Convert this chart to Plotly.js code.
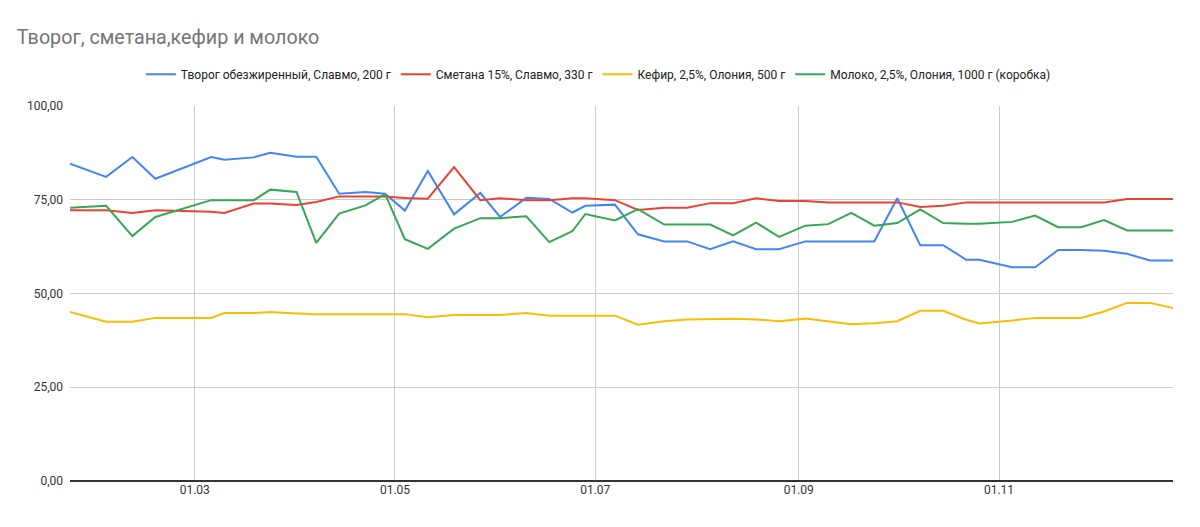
<!DOCTYPE html>
<html>
<head>
<meta charset="utf-8">
<script src="https://cdn.plot.ly/plotly-3.0.1.min.js"></script>
<style>html,body{margin:0;padding:0;background:#fff;}#chart{width:1200px;height:527px;}</style>
</head>
<body>
<div id="chart"></div>
<script>
const chartTitle = "Творог, сметана,кефир и молоко";
const seriesNames = [
  "Творог обезжиренный, Славмо, 200 г",
  "Сметана 15%, Славмо, 330 г",
  "Кефир, 2,5%, Олония, 500 г",
  "Молоко, 2,5%, Олония, 1000 г (коробка)"
];
const dates = [
  "2023-01-22","2023-02-02","2023-02-10","2023-02-17","2023-03-06","2023-03-10",
  "2023-03-19","2023-03-24","2023-04-01","2023-04-07","2023-04-14","2023-04-22",
  "2023-04-28","2023-05-04","2023-05-11","2023-05-19","2023-05-27","2023-06-02",
  "2023-06-10","2023-06-17","2023-06-24","2023-06-28","2023-07-07","2023-07-14",
  "2023-07-22","2023-07-29","2023-08-05","2023-08-12","2023-08-19","2023-08-26",
  "2023-09-03","2023-09-10","2023-09-17","2023-09-24","2023-10-01","2023-10-08",
  "2023-10-15","2023-10-22","2023-10-26","2023-11-05","2023-11-12","2023-11-19",
  "2023-11-26","2023-12-03","2023-12-10","2023-12-17","2023-12-24"
];
const tvorog = [
  84.6,81.1,86.4,80.6,86.4,85.7,86.3,87.5,86.5,86.5,76.6,77.1,
  76.6,72.1,82.7,71.1,76.8,70.4,75.5,75.2,71.6,73.4,73.7,65.8,
  63.9,63.9,61.8,63.9,61.8,61.8,63.9,63.9,63.9,63.9,75.4,62.9,
  62.9,59.0,59.0,57.0,57.0,61.6,61.6,61.4,60.6,58.8,58.8
];
const smetana = [
  72.2,72.2,71.5,72.2,71.8,71.5,74.0,74.0,73.6,74.4,75.9,75.9,
  75.9,75.5,75.3,83.7,74.9,75.4,74.9,74.9,75.4,75.4,74.9,72.3,
  72.9,72.9,74.1,74.1,75.4,74.7,74.7,74.3,74.3,74.3,74.3,73.1,
  73.4,74.3,74.3,74.3,74.3,74.3,74.3,74.3,75.2,75.2,75.2
];
const kefir = [
  45.1,42.5,42.5,43.5,43.5,44.8,44.8,45.1,44.7,44.5,44.5,44.5,
  44.5,44.5,43.7,44.3,44.3,44.3,44.8,44.1,44.1,44.1,44.1,41.7,
  42.6,43.1,43.3,43.3,43.1,42.6,43.3,42.6,41.8,42.1,42.6,45.4,
  45.4,43.0,42.0,42.8,43.5,43.5,43.5,45.2,47.5,47.5,46.1
];
const moloko = [
  72.9,73.4,65.3,70.4,74.9,74.9,74.9,77.7,77.1,63.5,71.3,73.5,
  76.5,64.5,61.9,67.3,70.1,70.1,70.6,63.7,66.6,71.2,69.5,72.5,
  68.4,68.4,68.4,65.5,68.9,65.1,68.1,68.5,71.5,68.1,68.8,72.4,
  68.8,68.6,68.6,69.1,70.8,67.7,67.7,69.6,66.8,66.8,66.8
];
const colors = ["#4285F4","#EA4335","#FBBC04","#34A853"];
const allSeries = [tvorog, smetana, kefir, moloko];

const traces = allSeries.map((vals, i) => ({
  type: "scatter",
  mode: "lines",
  x: dates,
  y: vals,
  name: seriesNames[i],
  line: {color: colors[i], width: 2}
}));

const layout = {
  width: 1200,
  height: 527,
  margin: {l: 70, r: 27, t: 106, b: 46},
  paper_bgcolor: "#fff",
  plot_bgcolor: "#fff",
  separators: ", ",
  font: {family: "Roboto, Arial, sans-serif", size: 12, color: "#444"},
  title: {
    text: chartTitle,
    font: {family: "Roboto, Arial, sans-serif", size: 19.7, color: "#757575"},
    xref: "container", x: 0.014, xanchor: "left",
    yref: "container", y: 0.93, yanchor: "middle"
  },
  showlegend: true,
  legend: {
    orientation: "h",
    x: 0.479, xanchor: "center",
    y: 1.085, yanchor: "middle",
    font: {family: "Roboto, Arial, sans-serif", size: 12, color: "#222"},
    itemwidth: 30,
    tracegroupgap: 0
  },
  xaxis: {
    type: "date",
    range: ["2023-01-22", "2023-12-24"],
    tick0: "2023-03-01",
    dtick: "M2",
    tickformat: "%d.%m",
    showgrid: true,
    gridcolor: "#cccccc",
    gridwidth: 1,
    zeroline: false,
    showline: false,
    ticks: "",
    tickfont: {size: 12, color: "#333"},
    fixedrange: true
  },
  yaxis: {
    range: [0, 100],
    dtick: 25,
    tick0: 0,
    tickformat: ".2f",
    showgrid: true,
    gridcolor: "#cccccc",
    gridwidth: 1,
    zeroline: true,
    zerolinecolor: "#333333",
    zerolinewidth: 2,
    showline: false,
    ticks: "",
    ticklabelstandoff: 6,
    tickfont: {size: 12, color: "#333"},
    fixedrange: true
  },
  hovermode: false
};

Plotly.newPlot("chart", traces, layout, {displayModeBar: false, staticPlot: true});
</script>
</body>
</html>
